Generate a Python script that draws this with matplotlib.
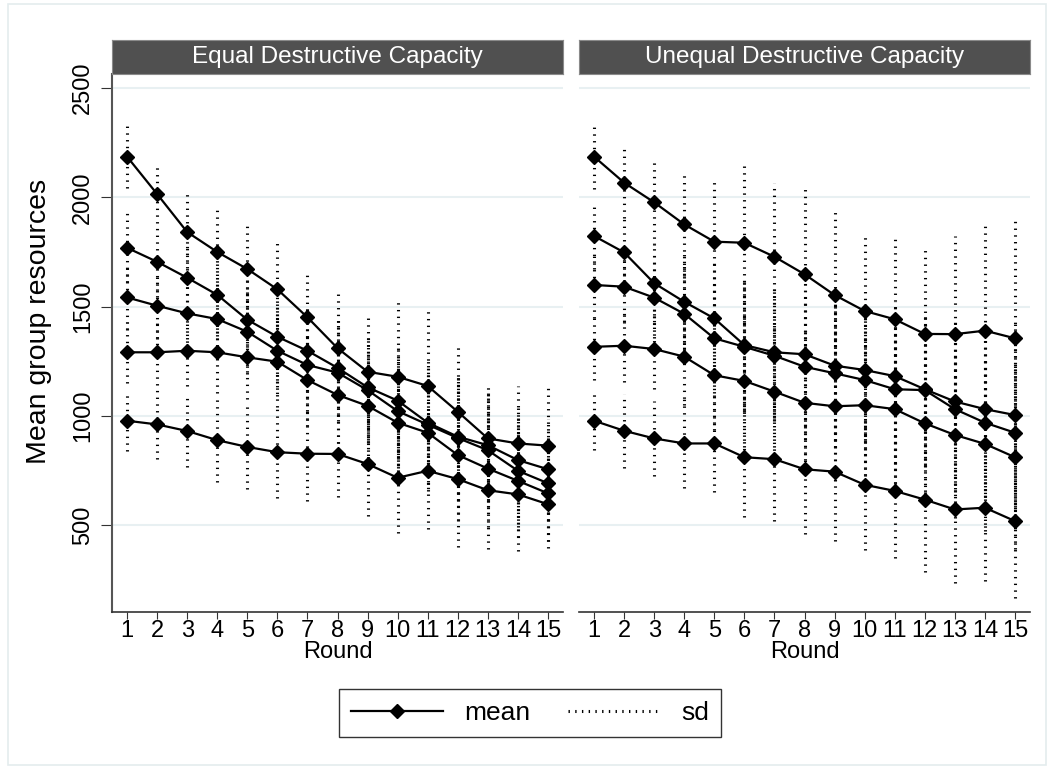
import matplotlib
matplotlib.use("Agg")
import matplotlib.pyplot as plt
from matplotlib.lines import Line2D
from matplotlib.patches import Rectangle

plt.rcParams['font.family'] = ['Liberation Sans', 'DejaVu Sans']

rounds = list(range(1, 16))
panel_titles = ['Equal Destructive Capacity', 'Unequal Destructive Capacity']

# Equal destructive capacity: group means and sd, one list per group
eq_m1 = [2186, 2015, 1841, 1750, 1672, 1579, 1451, 1310, 1202, 1179, 1137, 1019, 897, 874, 864]
eq_m2 = [1769, 1705, 1632, 1554, 1440, 1362, 1298, 1220, 1131, 1070, 969, 905, 866, 798, 756]
eq_m3 = [1542, 1504, 1469, 1443, 1385, 1298, 1233, 1198, 1118, 1022, 960, 899, 843, 749, 692]
eq_m4 = [1291, 1291, 1298, 1291, 1268, 1248, 1164, 1096, 1046, 969, 923, 821, 759, 703, 646]
eq_m5 = [978, 961, 931, 889, 858, 834, 827, 826, 780, 717, 749, 711, 660, 641, 596]
eq_s1 = [145, 133, 174, 215, 212, 226, 213, 252, 252, 343, 344, 298, 234, 263, 267]
eq_s2 = [158, 160, 170, 190, 200, 210, 215, 220, 240, 260, 280, 290, 260, 260, 230]
eq_s3 = [150, 150, 165, 185, 195, 205, 210, 220, 240, 260, 270, 290, 260, 255, 230]
eq_s4 = [140, 150, 160, 185, 190, 205, 210, 220, 240, 255, 265, 300, 265, 255, 220]
eq_s5 = [137, 158, 164, 193, 191, 211, 215, 199, 237, 254, 267, 310, 269, 259, 199]

# Unequal destructive capacity
un_m1 = [2186, 2067, 1977, 1876, 1797, 1792, 1728, 1648, 1553, 1480, 1442, 1375, 1374, 1390, 1355]
un_m2 = [1823, 1748, 1607, 1522, 1446, 1324, 1291, 1282, 1230, 1210, 1182, 1122, 1066, 1031, 1004]
un_m3 = [1599, 1591, 1541, 1467, 1355, 1316, 1275, 1225, 1195, 1164, 1122, 1118, 1031, 969, 923]
un_m4 = [1316, 1321, 1306, 1271, 1186, 1160, 1111, 1060, 1044, 1049, 1031, 966, 913, 872, 811]
un_m5 = [978, 932, 897, 874, 874, 811, 802, 756, 745, 685, 657, 617, 572, 580, 519]
un_s1 = [149, 162, 194, 244, 290, 363, 339, 389, 397, 348, 378, 394, 449, 483, 549]
un_s2 = [150, 165, 185, 220, 250, 300, 300, 330, 340, 320, 340, 350, 380, 400, 420]
un_s3 = [150, 165, 185, 220, 250, 300, 300, 330, 340, 320, 340, 350, 380, 400, 420]
un_s4 = [150, 165, 185, 220, 250, 300, 300, 330, 340, 320, 340, 350, 380, 400, 420]
un_s5 = [134, 169, 172, 203, 221, 272, 282, 296, 317, 299, 306, 333, 335, 335, 354]

panels = [
    ([eq_m1, eq_m2, eq_m3, eq_m4, eq_m5], [eq_s1, eq_s2, eq_s3, eq_s4, eq_s5]),
    ([un_m1, un_m2, un_m3, un_m4, un_m5], [un_s1, un_s2, un_s3, un_s4, un_s5]),
]

W, H = 1049, 769
fig = plt.figure(figsize=(W / 100, H / 100), dpi=100)

# light outer frame like Stata graph region
fig.patches.append(Rectangle((8 / W, 4 / H), 1038 / W, 761 / H, transform=fig.transFigure,
                             fill=False, edgecolor='#e4ecee', lw=1.2))

dot = (0, (0.45, 1.75))
grid_col = '#e8f0f2'
lefts = [112, 579]
for i, (means, sds) in enumerate(panels):
    x0 = lefts[i]
    ax = fig.add_axes([x0 / W, (H - 612) / H, 451 / W, (612 - 74) / H])
    for m, s in zip(means, sds):
        lo = [a - b for a, b in zip(m, s)]
        hi = [a + b for a, b in zip(m, s)]
        ax.vlines(rounds, lo, hi, colors='black', linestyles=dot, lw=2.2, zorder=2)
    for m in means:
        ax.plot(rounds, m, color='black', lw=1.6, marker='D', markersize=7, zorder=3)
    ax.set_xlim(0.5, 15.5)
    ax.set_ylim(103, 2564)
    ax.set_yticks([500, 1000, 1500, 2000, 2500])
    ax.set_xticks(rounds)
    ax.grid(axis='y', color=grid_col, lw=1.5, zorder=0)
    ax.set_axisbelow(True)
    for sp in ['top', 'right']:
        ax.spines[sp].set_visible(False)
    ax.spines['bottom'].set_color('#333333')
    ax.spines['bottom'].set_linewidth(1.2)
    ax.tick_params(axis='x', labelsize=17, length=5, color='#333333', pad=1)
    ax.set_xlabel('Round', fontsize=17, labelpad=-1)
    if i == 0:
        ax.spines['left'].set_color('#555555')
        ax.spines['left'].set_linewidth(1.5)
        ax.tick_params(axis='y', labelsize=17, length=8, color='#333333', pad=5)
        for lab in ax.get_yticklabels():
            lab.set_rotation(90)
            lab.set_va('center')
        ax.set_ylabel('Mean group resources', fontsize=20.5)
        ax.yaxis.set_label_coords(-0.133, 0.54)
    else:
        ax.spines['left'].set_visible(False)
        ax.tick_params(axis='y', left=False, labelleft=False)
    # strip header
    sax = fig.add_axes([x0 / W, (H - 74) / H, 451 / W, 34 / H])
    sax.set_xticks([])
    sax.set_yticks([])
    sax.set_facecolor('#505050')
    for sp in sax.spines.values():
        sp.set_color('#8a8a8a')
    sax.text(0.5, 0.5, panel_titles[i], color='white', fontsize=17.5,
             ha='center', va='center', transform=sax.transAxes)

handles = [Line2D([], [], color='black', lw=1.6, marker='D', markersize=7),
           Line2D([], [], color='black', lw=2.2, linestyle=dot)]
leg = fig.legend(handles, ['mean', 'sd'], loc='center', bbox_to_anchor=(530 / W, (H - 713) / H),
                 ncol=2, fontsize=19, frameon=True, fancybox=False, handlelength=3.5,
                 columnspacing=1.4, borderpad=0.45, handletextpad=0.8)
leg.get_frame().set_edgecolor('black')
leg.get_frame().set_linewidth(1.0)

fig.savefig('out.png', dpi=100, facecolor='white')
